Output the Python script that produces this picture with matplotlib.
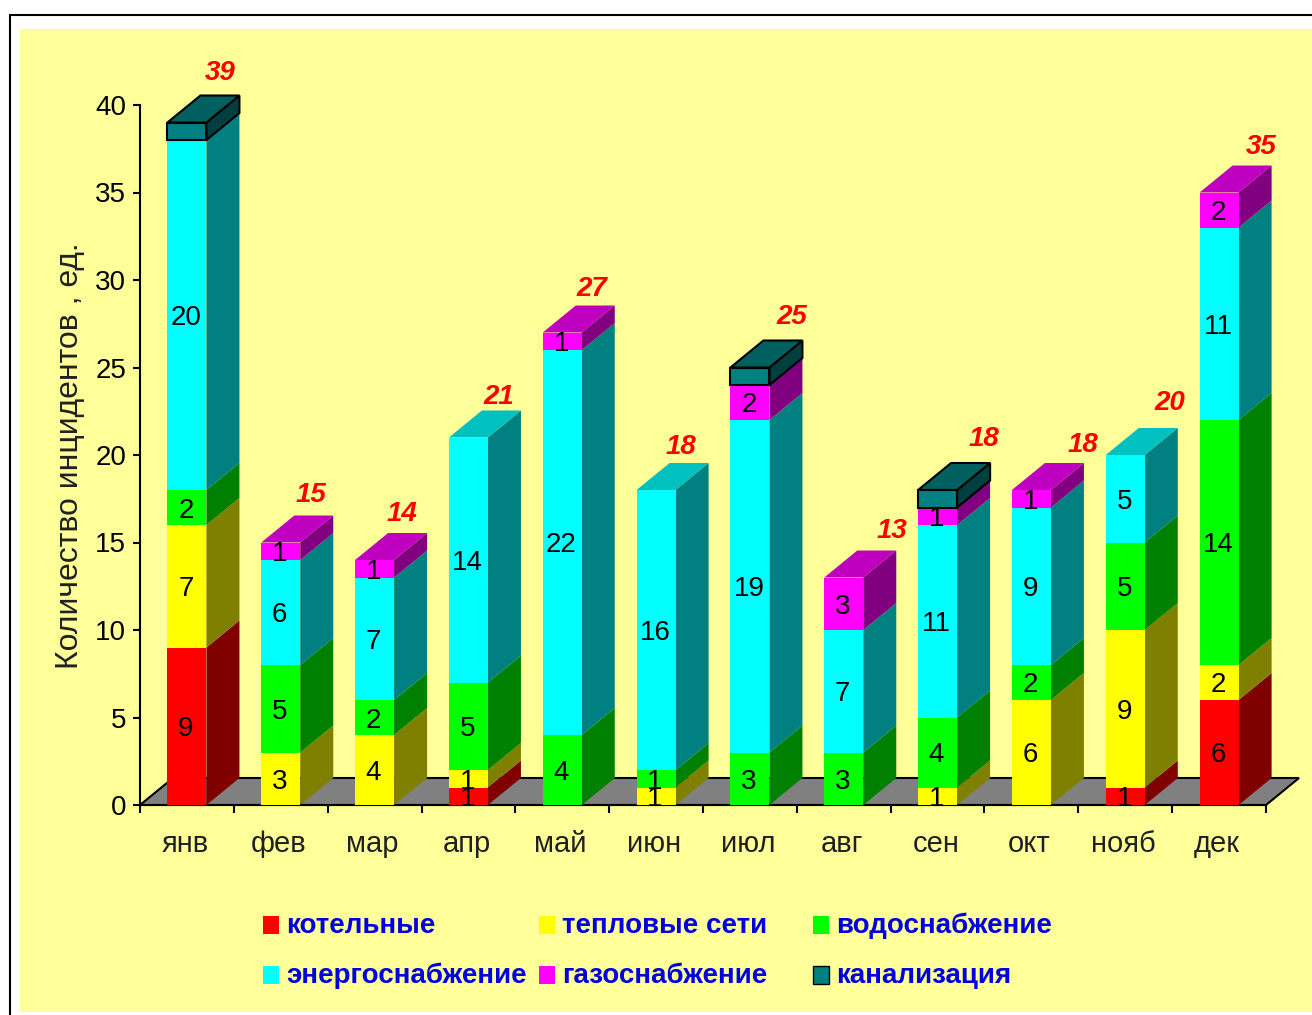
import numpy as np
import matplotlib
matplotlib.use('Agg')
import matplotlib.pyplot as plt
from matplotlib.patches import Polygon, Rectangle

plt.rcParams['font.family'] = ['Liberation Sans', 'DejaVu Sans']

months = ['янв', 'фев', 'мар', 'апр', 'май', 'июн', 'июл', 'авг', 'сен', 'окт', 'нояб', 'дек']
boilers = [9, 0, 0, 1, 0, 0, 0, 0, 0, 0, 1, 6]
heat = [7, 3, 4, 1, 0, 1, 0, 0, 1, 6, 9, 2]
water = [2, 5, 2, 5, 4, 1, 3, 3, 4, 2, 5, 14]
power = [20, 6, 7, 14, 22, 16, 19, 7, 11, 9, 5, 11]
gas = [0, 1, 1, 0, 1, 0, 2, 3, 1, 1, 0, 2]
sewer = [1, 0, 0, 0, 0, 0, 1, 0, 1, 0, 0, 0]
totals = [39, 15, 14, 21, 27, 18, 25, 13, 18, 18, 20, 35]
series_names = ['котельные', 'тепловые сети', 'водоснабжение',
                'энергоснабжение', 'газоснабжение', 'канализация']

W, H = 1312, 1015
front = ['#ff0000', '#ffff00', '#00ff00', '#00ffff', '#ff00ff', '#008080']
side = ['#800000', '#808000', '#008000', '#008080', '#800080', '#003f3f']
top = ['#c00000', '#c0c000', '#00c000', '#00c0c0', '#c000c0', '#005f5f']

# nudges of the red totals, in pixels from the top of each bar
total_dx = [33, 30, 27, 30, 30, 25, 42, 48, 46, 52, 45, 42]
total_dy = [50, 47, 46, 40, 44, 43, 51, 46, 51, 45, 52, 45]

# depth of the fake 3d look, in data units
depth_x = 33 / 93.8
depth_y = 27 / 17.5
bar_w = 39 / 93.8

fig = plt.figure(figsize=(W / 100, H / 100), dpi=100, facecolor='white')
fig.add_artist(Rectangle((20 / W, 1 - 1012 / H), 1292 / W, 983 / H, transform=fig.transFigure,
                         facecolor='#ffff99', edgecolor='none', zorder=-2))
fig.add_artist(Rectangle((9.5 / W, -0.01), 1.1, 1.01 - 15 / H, transform=fig.transFigure,
                         facecolor='none', edgecolor='black', linewidth=1.5, zorder=-1))

ax = fig.add_axes([140 / W, 1 - 805 / H, 1126 / W, 700 / H])
ax.patch.set_alpha(0)
ax.set_xlim(-0.5, 11.5)
ax.set_ylim(0, 40)
for name in ['top', 'right']:
    ax.spines[name].set_visible(False)
ax.spines['left'].set_linewidth(1.5)
ax.spines['bottom'].set_linewidth(1.5)

# floor of the chart
ax.add_patch(Polygon([(-0.5, 0), (11.5, 0), (11.5 + depth_x, depth_y), (-0.5 + depth_x, depth_y)],
                     closed=True, facecolor='#808080', edgecolor='black', linewidth=1.5,
                     clip_on=False, zorder=1))

stack = np.array([boilers, heat, water, power, gas, sewer])
x = np.arange(len(months))
for i in x:
    bottom = 0
    last = max(s for s in range(6) if stack[s][i] > 0)
    for s in range(6):
        v = stack[s][i]
        if v == 0:
            continue
        is_sewer = s == 5
        edge = 'black' if is_sewer else 'none'
        left = i - bar_w / 2
        right = i + bar_w / 2
        ax.bar(i, v, bar_w, bottom=bottom, color=front[s], edgecolor=edge,
               linewidth=1.5, clip_on=False, zorder=3)
        ax.add_patch(Polygon([(right, bottom), (right + depth_x, bottom + depth_y),
                              (right + depth_x, bottom + v + depth_y), (right, bottom + v)],
                             closed=True, facecolor=side[s], edgecolor=edge, linewidth=1.5,
                             clip_on=False, zorder=2.5))
        if s == last:
            ax.add_patch(Polygon([(left, bottom + v), (right, bottom + v),
                                  (right + depth_x, bottom + v + depth_y),
                                  (left + depth_x, bottom + v + depth_y)],
                                 closed=True, facecolor=top[s], edgecolor=edge, linewidth=1.5,
                                 clip_on=False, zorder=2.5))
        if not is_sewer:
            ax.annotate(str(v), (i, bottom + v / 2), xytext=(-1, -3), textcoords='offset pixels',
                        ha='center', va='center', fontsize=20, color='black', zorder=5)
        bottom += v
    ax.annotate(str(totals[i]), (i, totals[i]), xytext=(total_dx[i], total_dy[i]),
                textcoords='offset pixels', ha='center', va='center', color='red',
                fontsize=20, fontweight='bold', style='italic', zorder=6)

ax.set_yticks(np.arange(0, 41, 5))
ax.tick_params(axis='y', labelsize=20, length=5, width=1.5, pad=5)
ax.set_xticks(np.arange(-0.5, 12, 1))
ax.set_xticklabels([])
ax.set_xticks(x - 0.02, months, minor=True)
ax.tick_params(axis='x', which='major', length=6, width=1.5)
ax.tick_params(axis='x', which='minor', length=0, labelsize=21, pad=18, labelcolor='#202020')

fig.text(70 / W, 1 - 456 / H, 'Количество инцидентов , ед.', rotation=90, ha='center', va='center',
         fontsize=23, color='#202020')

# legend, three columns in two rows
legend_x = [263, 539, 813, 263, 539, 813]
legend_y = [925, 925, 925, 975, 975, 975]
for s in range(6):
    fig.add_artist(Rectangle((legend_x[s] / W, 1 - (legend_y[s] + 9) / H), 16 / W, 18 / H,
                             transform=fig.transFigure, facecolor=front[s],
                             edgecolor='black' if s == 5 else 'none', linewidth=1))
    fig.text((legend_x[s] + 23) / W, 1 - (legend_y[s] + 1) / H, series_names[s], ha='left', va='center',
             fontsize=20, fontweight='bold', color='#0000e0')

fig.savefig('out.png', dpi=100)
